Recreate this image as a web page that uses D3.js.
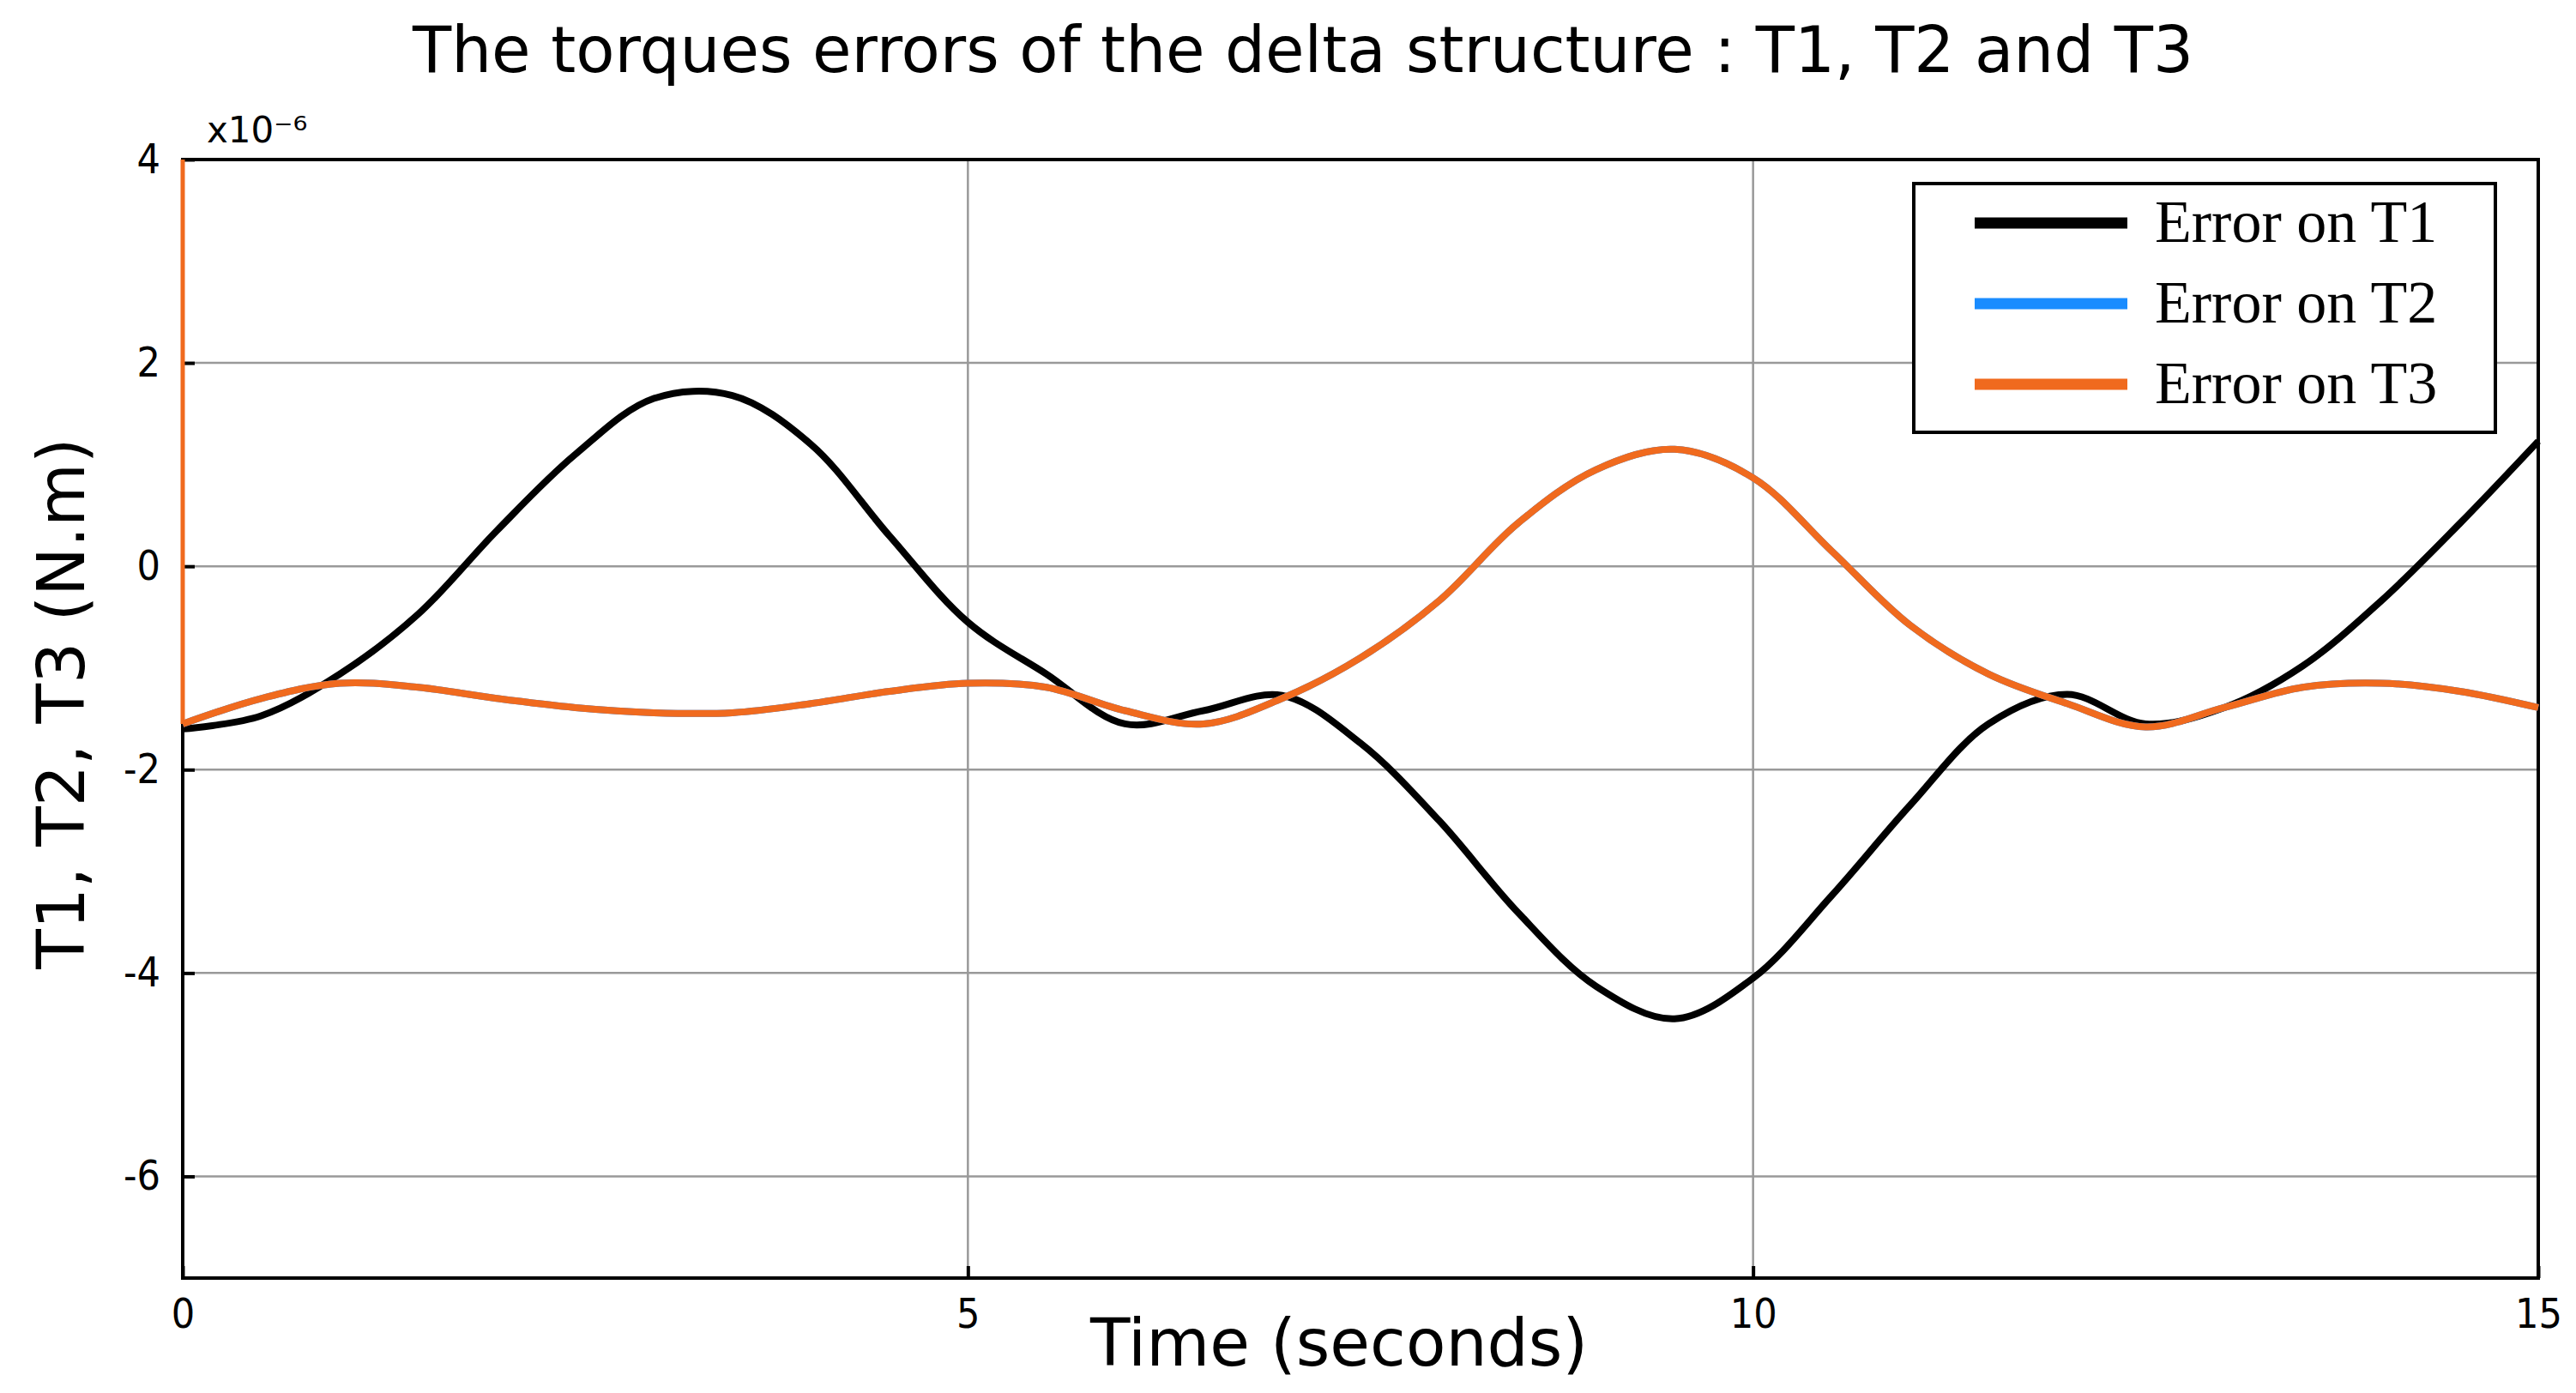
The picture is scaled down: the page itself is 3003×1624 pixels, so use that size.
<!DOCTYPE html>
<html>
<head>
<meta charset="utf-8">
<script src="https://cdn.jsdelivr.net/npm/d3@7"></script>
<style>
  body { margin: 0; background: #fff; }
</style>
</head>
<body>
<svg id="chart" width="3003" height="1624" font-family="DejaVu Sans, Verdana, sans-serif"></svg>
<script>
// sample times (s)
var times = [0,0.5,1,1.5,2,2.5,3,3.5,4,4.5,5,5.5,6,6.5,7,7.5,8,8.5,9,9.5,10,10.5,11,11.5,12,12.5,13,13.5,14,14.5,15];
// torque errors, x1e-6 N.m
var errT1 = [-1.6,-1.47,-1.06,-0.47,0.35,1.1,1.65,1.68,1.2,0.3,-0.55,-1.06,-1.55,-1.42,-1.27,-1.74,-2.5,-3.4,-4.13,-4.45,-4.05,-3.24,-2.35,-1.55,-1.26,-1.55,-1.39,-0.98,-0.34,0.42,1.23];
var errT2 = [-1.55,-1.3,-1.15,-1.19,-1.3,-1.39,-1.44,-1.44,-1.35,-1.23,-1.15,-1.19,-1.42,-1.55,-1.3,-0.9,-0.34,0.42,0.95,1.15,0.87,0.15,-0.58,-1.06,-1.35,-1.58,-1.39,-1.19,-1.15,-1.23,-1.39];
var errT3 = errT2.slice();
var t3Spike = [4, errT3[0]];   // initial transient at t = 0
var xTicks = [0, 5, 10, 15];
var yTicks = [-6, -4, -2, 0, 2, 4];
var seriesNames = ['Error on T1', 'Error on T2', 'Error on T3'];
var seriesColors = ['#000000', '#1a8cff', '#f06a1e'];

var svg = d3.select('#chart');
var m = {left: 213, right: 2959, top: 186, bottom: 1490};

var x = d3.scaleLinear().domain([0, 15]).range([m.left, m.right]);
var y = d3.scaleLinear().domain([-7, 4]).range([m.bottom, m.top]);

// grid
svg.append('g').selectAll('line').data(yTicks).enter().append('line')
    .attr('x1', m.left).attr('x2', m.right)
    .attr('y1', function(d){ return y(d); }).attr('y2', function(d){ return y(d); })
    .attr('stroke', '#999').attr('stroke-width', 2.5);
svg.append('g').selectAll('line').data(xTicks).enter().append('line')
    .attr('y1', m.top).attr('y2', m.bottom)
    .attr('x1', function(d){ return x(d); }).attr('x2', function(d){ return x(d); })
    .attr('stroke', '#999').attr('stroke-width', 2.5);

// axes
var fmt = function(d){ return String(d); };   // plain hyphen minus like the original
var xAxis = svg.append('g').attr('transform', 'translate(0,' + m.bottom + ')')
    .call(d3.axisBottom(x).tickValues(xTicks).tickFormat(fmt).tickSize(-14).tickPadding(20));
var yAxis = svg.append('g').attr('transform', 'translate(' + m.left + ',0)')
    .call(d3.axisLeft(y).tickValues(yTicks).tickFormat(fmt).tickSize(-14).tickPadding(26));
[xAxis, yAxis].forEach(function(a){
    a.select('.domain').remove();
    a.selectAll('line').attr('stroke', '#000').attr('stroke-width', 4);
    a.selectAll('text').style('font-size', '48px').style('font-family', '"DejaVu Sans Condensed", "DejaVu Sans"').attr('fill', '#000');
});
xAxis.selectAll('text').attr('dy', '0.8em');

// frame
svg.append('rect').attr('x', m.left).attr('y', m.top)
    .attr('width', m.right - m.left).attr('height', m.bottom - m.top)
    .attr('fill', 'none').attr('stroke', '#000').attr('stroke-width', 4);

// curves
var line = d3.line()
    .x(function(d, i){ return x(times[i]); })
    .y(function(d){ return y(d); })
    .curve(d3.curveCatmullRom.alpha(0.5));
[errT1, errT2, errT3].forEach(function(s, i){
    svg.append('path').datum(s).attr('d', line)
        .attr('fill', 'none').attr('stroke', seriesColors[i]).attr('stroke-width', 8)
        .attr('stroke-linejoin', 'round');
});
svg.append('path').datum(t3Spike)
    .attr('d', d3.line().x(function(){ return x(0); }).y(function(d){ return y(d); }))
    .attr('stroke', seriesColors[2]).attr('stroke-width', 5);

// exponent marker
svg.append('text').attr('x', m.left + 28).attr('y', 166)
    .style('font-size', '42px').text('x10\u207B\u2076');

// titles
svg.append('text').attr('x', 1519).attr('y', 84).attr('text-anchor', 'middle')
    .style('font-size', '74px').text('The torques errors of the delta structure : T1, T2 and T3');
svg.append('text').attr('x', 1561).attr('y', 1592).attr('text-anchor', 'middle')
    .style('font-size', '76px').text('Time (seconds)');
svg.append('text').attr('transform', 'translate(98,820) rotate(-90)').attr('text-anchor', 'middle')
    .style('font-size', '76px').text('T1, T2, T3 (N.m)');

// legend
var lg = svg.append('g');
lg.append('rect').attr('x', 2231).attr('y', 214).attr('width', 678).attr('height', 290)
    .attr('fill', '#fff').attr('stroke', '#000').attr('stroke-width', 4);
seriesNames.forEach(function(n, i){
    var yy = 260 + i * 94;
    lg.append('line').attr('x1', 2302).attr('x2', 2480).attr('y1', yy).attr('y2', yy)
        .attr('stroke', seriesColors[i]).attr('stroke-width', 13);
    lg.append('text').attr('x', 2512).attr('y', yy + 22)
        .style('font-family', '"Liberation Serif", "DejaVu Serif", serif').style('font-size', '70px').text(n);
});
</script>
</body>
</html>
